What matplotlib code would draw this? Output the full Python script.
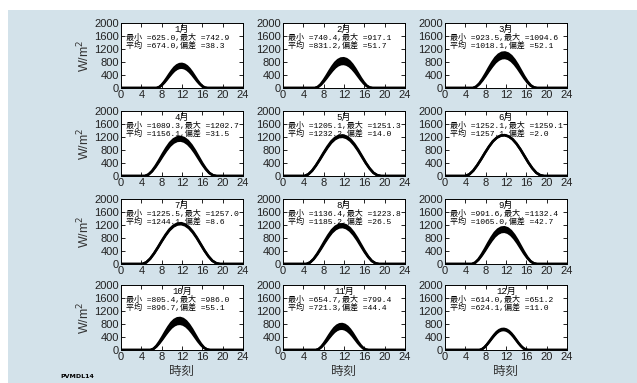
import matplotlib
matplotlib.use('Agg')
import matplotlib.pyplot as plt
import numpy as np
from matplotlib.patches import Rectangle

plt.rcParams['font.family'] = ['Liberation Sans', 'Noto Sans CJK JP']

months = ['1月', '2月', '3月', '4月', '5月', '6月', '7月', '8月', '9月', '10月', '11月', '12月']
v_min = [625.0, 740.4, 923.5, 1089.3, 1205.1, 1252.1, 1225.5, 1136.4, 991.6, 805.4, 654.7, 614.0]
v_max = [742.9, 917.1, 1094.6, 1202.7, 1251.3, 1259.1, 1257.0, 1223.8, 1132.4, 986.0, 799.4, 651.2]
v_mean = [674.0, 831.2, 1018.1, 1156.1, 1232.2, 1257.1, 1244.1, 1185.2, 1065.0, 896.7, 721.3, 624.1]
v_std = [38.3, 51.7, 52.1, 31.5, 14.0, 2.0, 8.6, 26.5, 42.7, 55.1, 44.4, 11.0]
sunrise = [7.0, 6.3, 5.5, 4.7, 4.2, 4.0, 4.2, 4.6, 5.3, 5.8, 6.5, 6.8]
sunset = [17.0, 17.6, 18.1, 18.8, 19.3, 19.5, 19.5, 18.9, 18.1, 17.5, 16.8, 16.4]
# normalized daily profile (sunrise -> sunset)
profile = [0.0, 0.04, 0.13, 0.26, 0.41, 0.57, 0.72, 0.85, 0.94, 0.99, 1.0,
           0.97, 0.90, 0.79, 0.65, 0.49, 0.33, 0.19, 0.08, 0.02, 0.0]

fig = plt.figure(figsize=(6.37, 3.83), dpi=100)
fig.patch.set_facecolor('white')
fig.patches.append(Rectangle((8 / 637, 0), 1 - 8 / 637, 1 - 10 / 383,
                             transform=fig.transFigure, facecolor='#d3e2ea',
                             edgecolor='none', zorder=-10))

W, H = 637, 383
lefts = [121, 283, 445]
width = 122
tops = [23, 111, 199, 285]
height = 65

mono = ['Liberation Mono', 'Noto Sans CJK JP']

for i in range(12):
    r, c = divmod(i, 3)
    ax = fig.add_axes([lefts[c] / W, 1 - (tops[r] + height) / H, width / W, height / H])
    pm = np.array(profile)
    xs = np.linspace(sunrise[i], sunset[i], len(pm))
    x = np.concatenate([[0], xs, [24]])
    lo = np.concatenate([[0], pm * v_min[i], [0]])
    hi = np.concatenate([[0], pm * v_max[i], [0]])
    ax.fill_between(x, lo, hi, color='black', lw=0)
    ax.plot(x, lo, color='black', lw=1.8)
    ax.plot(x, hi, color='black', lw=1.8)
    ax.set_xlim(0, 24)
    ax.set_ylim(0, 2000)
    ax.set_xticks(range(0, 25, 4))
    ax.set_yticks(range(0, 2001, 400))
    ax.tick_params(direction='in', top=True, right=True, length=3, labelsize=8,
                   pad=1.5, width=0.6, labelcolor='#222222')
    for s in ax.spines.values():
        s.set_linewidth(0.7)
    ax.text(0.5, 0.90, months[i], transform=ax.transAxes, ha='center', va='center',
            fontsize=6.5, family=mono)
    ax.text(0.04, 0.77, '最小 =%.1f,最大 =%.1f' % (v_min[i], v_max[i]),
            transform=ax.transAxes, ha='left', va='center', fontsize=5.8, family=mono)
    ax.text(0.04, 0.645, '平均 =%.1f,偏差 =%.1f' % (v_mean[i], v_std[i]),
            transform=ax.transAxes, ha='left', va='center', fontsize=5.8, family=mono)
    if c == 0:
        ax.set_ylabel(r'W/m$^2$', fontsize=9, labelpad=1, color='#333333')
    if r == 3:
        ax.set_xlabel('時刻', fontsize=9, labelpad=2, family=['Noto Sans CJK JP'],
                      color='#333333')

fig.text(60 / W, 1 - 376 / H, 'PVMDL14', fontsize=4.5, weight='bold',
         ha='left', va='center', family=['DejaVu Sans'])

fig.savefig('out.png', dpi=100)
